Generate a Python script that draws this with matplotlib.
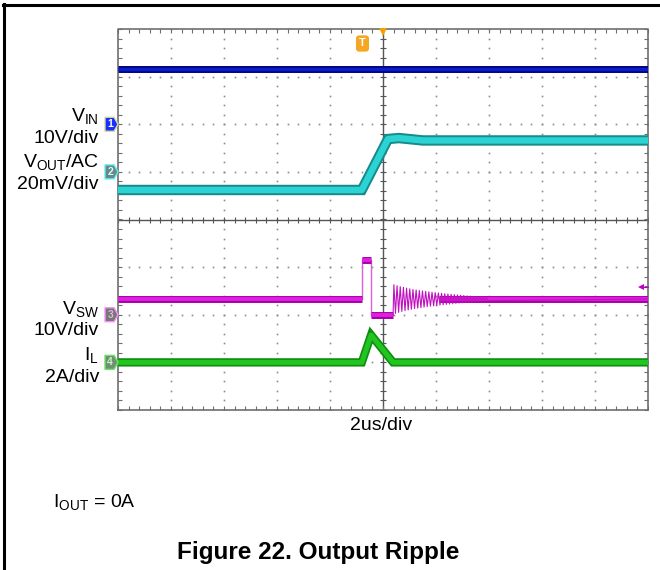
import numpy as np
import matplotlib.pyplot as plt
from matplotlib.lines import Line2D
from matplotlib.patches import Polygon
from matplotlib.transforms import blended_transform_factory

plt.rcParams['font.family'] = ['Liberation Sans', 'DejaVu Sans']
plt.rcParams['mathtext.fontset'] = 'custom'
plt.rcParams['mathtext.rm'] = 'Liberation Sans'
plt.rcParams['mathtext.default'] = 'regular'

# ---- scope data: time in us (0 = trigger), values in channel units ----
vin_t = [-10, 10]
vin_v = [11.5, 11.5]                      # V, ch1 10V/div

vout_t = [-10, -0.8, 0.19, 0.6, 1.5, 10]
vout_mv = [-7.6, -7.6, 13.8, 14.2, 13.2, 13.2]   # mV AC, ch2 20mV/div

vsw_t = [-10, -0.8, -0.8, -0.45, -0.45, 0.38]
vsw_v = [3.3, 3.3, 11.5, 11.5, 0.0, 0.0]  # V, ch3 10V/div
vsw_base = 3.3
ring_amp = [3.0, 2.8, 2.6, 2.45, 2.3, 2.15, 2.0, 1.9, 1.8, 1.7,
            1.6, 1.5, 1.42, 1.35, 1.28, 1.2, 1.12, 1.05, 0.98, 0.92,
            0.86, 0.8, 0.74, 0.68, 0.62, 0.56, 0.5, 0.44, 0.38, 0.32]
ring_period = 0.12                        # us

il_t = [-10, -0.8, -0.45, 0.38, 10]
il_a = [0.0, 0.0, 1.15, 0.0, 0.0]         # A, ch4 2A/div

# channel offsets (div) and scales (units/div)
ch_off = {1: 2.0, 2: 1.0, 3: -2.0, 4: -3.0}
ch_scale = {1: 10.0, 2: 20.0, 3: 10.0, 4: 2.0}


def to_div(vals, ch):
    return [ch_off[ch] + v / ch_scale[ch] for v in vals]


W, H = 660, 570
fig = plt.figure(figsize=(6.6, 5.7), dpi=100)
fig.patch.set_facecolor('white')
ax = fig.add_axes([118 / W, 1 - 410 / H, 530 / W, 381 / H])
ax.set_xlim(-10, 10)
ax.set_ylim(-4, 4)
ax.set_axis_off()

# graticule
grid_c = '#8c8c8c'
for gx in range(-8, 9, 2):
    if gx == 0:
        continue
    ys = np.arange(-4, 4.01, 0.2)
    ax.plot([gx] * len(ys), ys, ls='none', marker='s', ms=1.2, color=grid_c, mew=0)
for gy in range(-3, 4):
    if gy == 0:
        continue
    xs = np.arange(-10, 10.01, 0.4)
    ax.plot(xs, [gy] * len(xs), ls='none', marker='s', ms=1.2, color=grid_c, mew=0)

# center cross with ticks
ax.plot([0, 0], [-4, 4], color='#555555', lw=1.0)
ax.plot([-10, 10], [0, 0], color='#555555', lw=1.0)
ys = np.arange(-4, 4.01, 0.2)
xs = np.arange(-10, 10.01, 0.4)
ax.plot([0] * len(ys), ys, ls='none', marker='_', ms=4, mew=0.8, color='#555555')
ax.plot(xs, [0] * len(xs), ls='none', marker='|', ms=4, mew=0.8, color='#555555')

# border with inward ticks
bc = '#6e6e6e'
ax.plot([-10, 10, 10, -10, -10], [-4, -4, 4, 4, -4], color=bc, lw=1.2, clip_on=False)
ax.plot(xs, [4] * len(xs), ls='none', marker=3, ms=3, mew=0.8, color=bc, clip_on=False)
ax.plot(xs, [-4] * len(xs), ls='none', marker=2, ms=3, mew=0.8, color=bc, clip_on=False)
ax.plot([-10] * len(ys), ys, ls='none', marker=1, ms=3, mew=0.8, color=bc, clip_on=False)
ax.plot([10] * len(ys), ys, ls='none', marker=0, ms=3, mew=0.8, color=bc, clip_on=False)


def band(t, y, dark, light, lw, frac=0.55):
    ax.plot(t, y, color=dark, lw=lw, solid_capstyle='butt', solid_joinstyle='miter')
    ax.plot(t, y, color=light, lw=lw * frac, solid_capstyle='butt')


# CH1 VIN
band(vin_t, to_div(vin_v, 1), '#00007e', '#0a1ec8', 5.0, 0.5)

# CH2 VOUT
band(vout_t, to_div(vout_mv, 2), '#178a8a', '#2bd3d3', 7.5, 0.62)

# CH3 VSW
vsw_y = to_div(vsw_v, 3)
ax.plot(vsw_t, vsw_y, color='#d860d8', lw=1.0)
for i in range(len(vsw_t) - 1):
    if vsw_v[i] == vsw_v[i + 1]:
        band(vsw_t[i:i + 2], vsw_y[i:i + 2], '#a800a8', '#e020e0', 5.0)
ring_t = [vsw_t[-1]]
ring_v = [vsw_v[-1]]
for k, a in enumerate(ring_amp):
    ring_t.append(vsw_t[-1] + (k + 0.25) * ring_period)
    ring_v.append(vsw_base + a)
    ring_t.append(vsw_t[-1] + (k + 0.75) * ring_period)
    ring_v.append(vsw_base - a)
ring_t.append(10)
ring_v.append(vsw_base)
base_y = to_div([vsw_base, vsw_base], 3)
band([2.1, 10], base_y, '#a800a8', '#e020e0', 5.0)
ax.plot(ring_t, to_div(ring_v, 3), color='#c010c0', lw=0.8)

# CH4 IL
band(il_t, to_div(il_a, 4), '#0b8f0b', '#22c422', 6.0, 0.6)

# channel markers on the left edge
tr = blended_transform_factory(ax.transAxes, ax.transData)
mk = {1: ('#1830ff', '#d8d8a0', 'white'),
      2: ('#6a8888', '#60f0f0', '#c8ffff'),
      3: ('#767676', '#ff90ff', '#d8b8d8'),
      4: ('#6c946c', '#70e070', '#c8f0c8')}
w = 13 / 530
h = 14 / 47.6
for ch, (fc, ec, tc) in mk.items():
    y0 = ch_off[ch]
    x0 = -w
    pts = [(x0, y0 - h / 2), (x0 + w * 0.7, y0 - h / 2), (x0 + w, y0),
           (x0 + w * 0.7, y0 + h / 2), (x0, y0 + h / 2)]
    ax.add_patch(Polygon(pts, closed=True, transform=tr, facecolor=fc,
                         edgecolor=ec, lw=1.0, clip_on=False, zorder=5))
    ax.text(x0 + w * 0.4, y0, str(ch), transform=tr, ha='center', va='center',
            fontsize=7.5, color=tc, fontweight='bold', zorder=6)

# trigger markers
ax.plot(0, 3.93, marker='v', ms=6, color='#f5a000', mew=0, clip_on=False, zorder=6)
fig.text(362.5 / W, 1 - 43.5 / H, 'T', ha='center', va='center', fontsize=8,
         color='white', fontweight='bold',
         bbox=dict(boxstyle='round,pad=0.22', fc='#f5a623', ec='#f5a623'))
ax.plot([9.7, 10], [-1.42, -1.42], color='#c000c0', lw=0.8, clip_on=False)
ax.plot(9.75, -1.42, marker='<', ms=5, color='#c000c0', mew=0, clip_on=False)

# labels
fs = 14
lx = 99 / W
labels = [('V$_{IN}$', 121), ('10V/div', 143), ('V$_{OUT}$/AC', 167), ('20mV/div', 189),
          ('V$_{SW}$', 314), ('10V/div', 335), ('I$_{L}$', 360), ('2A/div', 382)]
for s, yb in labels:
    fig.text(lx, 1 - yb / H, s, ha='right', va='baseline', fontsize=fs)

fig.text(381 / W, 1 - 430 / H, '2us/div', ha='center', va='baseline', fontsize=fs)
fig.text(53 / W, 1 - 507 / H, 'I$_{OUT}$ = 0A', ha='left', va='baseline', fontsize=fs)
fig.text(318 / W, 1 - 559 / H, 'Figure 22. Output Ripple', ha='center', va='baseline',
         fontsize=17.5, fontweight='bold')

# outer frame (top and left)
fig.add_artist(Line2D([3 / W, 1], [1 - 4.5 / H, 1 - 4.5 / H], transform=fig.transFigure,
                      color='black', lw=2.2))
fig.add_artist(Line2D([4 / W, 4 / W], [0, 1 - 3.5 / H], transform=fig.transFigure,
                      color='black', lw=2.2))

fig.savefig('out.png', dpi=100)
